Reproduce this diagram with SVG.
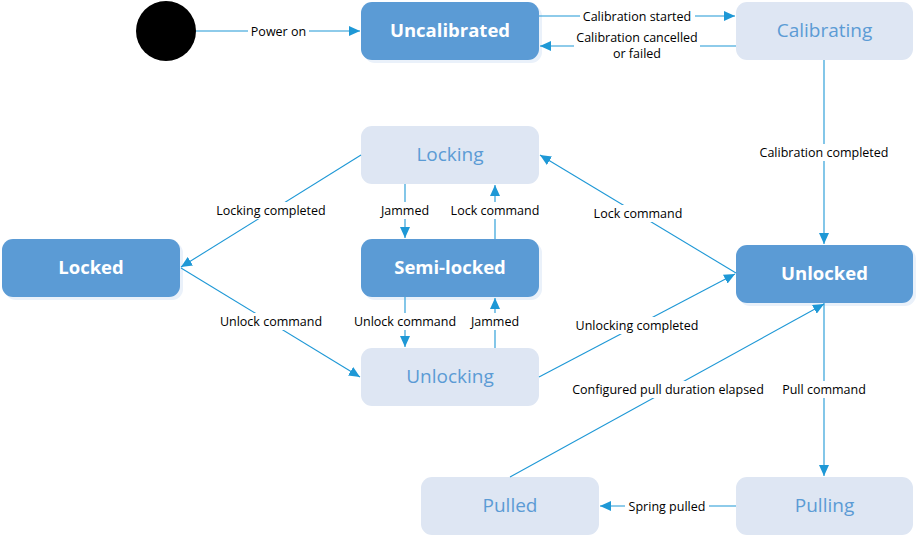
<svg xmlns="http://www.w3.org/2000/svg" width="919" height="537" viewBox="0 0 919 537">
<style>
.dk{fill:#5B9BD5}
.lt{fill:#DEE6F3}
.sh{fill:#EAF1FA}
.tdk{font-family:"Open Sans","Noto Sans",sans-serif;font-size:18.5px;font-weight:bold;fill:#FFFFFF;text-anchor:middle}
.tlt{font-family:"Open Sans","Noto Sans",sans-serif;font-size:19px;fill:#5B9BD5;text-anchor:middle}
.c{stroke:#1E98D6;stroke-width:1.1;fill:none;marker-end:url(#a)}
.lb{font-family:"Open Sans","Noto Sans",sans-serif;font-size:12.5px;fill:#000;text-anchor:middle}
.bg{fill:#FFFFFF}
</style>
<defs>
<marker id="a" markerUnits="userSpaceOnUse" markerWidth="12" markerHeight="10" refX="11" refY="5" orient="auto">
<path d="M0,0 L11,5 L0,10 Z" fill="#1E98D6"/>
</marker>
</defs>
<g id="start"><circle cx="166" cy="31" r="30" fill="#000"/></g>
<g id="uncalibrated"><rect class="sh" x="364" y="5" width="178" height="58" rx="11"/><rect class="dk" x="361" y="2" width="178" height="58" rx="11"/><text class="tdk" x="450" y="37">Uncalibrated</text></g>
<g id="calibrating"><rect class="lt" x="736" y="2" width="177" height="58" rx="11"/><text class="tlt" x="824.5" y="37">Calibrating</text></g>
<g id="locking"><rect class="lt" x="361" y="126" width="178" height="58" rx="11"/><text class="tlt" x="450" y="161">Locking</text></g>
<g id="locked"><rect class="sh" x="5" y="242" width="178" height="58" rx="11"/><rect class="dk" x="2" y="239" width="178" height="58" rx="11"/><text class="tdk" x="91" y="274">Locked</text></g>
<g id="semilocked"><rect class="sh" x="364" y="242" width="178" height="58" rx="11"/><rect class="dk" x="361" y="239" width="178" height="58" rx="11"/><text class="tdk" x="450" y="274">Semi-locked</text></g>
<g id="unlocking"><rect class="lt" x="361" y="348" width="178" height="58" rx="11"/><text class="tlt" x="450" y="383">Unlocking</text></g>
<g id="unlocked"><rect class="sh" x="739" y="248" width="177" height="58" rx="11"/><rect class="dk" x="736" y="245" width="177" height="58" rx="11"/><text class="tdk" x="824.5" y="280">Unlocked</text></g>
<g id="pulled"><rect class="lt" x="421" y="477" width="178" height="58" rx="11"/><text class="tlt" x="510" y="512">Pulled</text></g>
<g id="pulling"><rect class="lt" x="736" y="477" width="177" height="58" rx="11"/><text class="tlt" x="824.5" y="512">Pulling</text></g>
<g id="connectors">
<line class="c" x1="196" y1="31" x2="360" y2="31"/>
<line class="c" x1="539" y1="16" x2="735" y2="16"/>
<line class="c" x1="736" y1="46" x2="540" y2="46"/>
<line class="c" x1="824" y1="60" x2="824" y2="244"/>
<line class="c" x1="736" y1="273" x2="540" y2="155"/>
<line class="c" x1="361" y1="155" x2="181" y2="267"/>
<line class="c" x1="181" y1="268" x2="360" y2="377"/>
<line class="c" x1="405" y1="184" x2="405" y2="238"/>
<line class="c" x1="495" y1="239" x2="495" y2="185"/>
<line class="c" x1="405" y1="297" x2="405" y2="347"/>
<line class="c" x1="495" y1="348" x2="495" y2="298"/>
<line class="c" x1="539" y1="377" x2="735" y2="274"/>
<line class="c" x1="510" y1="477" x2="824" y2="304"/>
<line class="c" x1="824" y1="303" x2="824" y2="476"/>
<line class="c" x1="736" y1="506" x2="600" y2="506"/>
</g>
<g id="labels">
<rect class="bg" x="248" y="23" width="61" height="17"/><text class="lb" x="278.5" y="35.5">Power on</text>
<rect class="bg" x="580" y="8" width="115" height="17"/><text class="lb" x="637" y="20.5">Calibration started</text>
<rect class="bg" x="574" y="29" width="126" height="32"/><text class="lb" x="637" y="42">Calibration cancelled</text><text class="lb" x="637" y="57.5">or failed</text>
<rect class="bg" x="756" y="144" width="136" height="17"/><text class="lb" x="824" y="156.5">Calibration completed</text>
<rect class="bg" x="590" y="205" width="97" height="17"/><text class="lb" x="638" y="217.5">Lock command</text>
<rect class="bg" x="212" y="202" width="118" height="17"/><text class="lb" x="271" y="214.5">Locking completed</text>
<rect class="bg" x="216" y="313" width="110" height="17"/><text class="lb" x="271" y="325.5">Unlock command</text>
<rect class="bg" x="378" y="202" width="54" height="17"/><text class="lb" x="405" y="214.5">Jammed</text>
<rect class="bg" x="447" y="202" width="96" height="17"/><text class="lb" x="495" y="214.5">Lock command</text>
<rect class="bg" x="351" y="313" width="108" height="17"/><text class="lb" x="405" y="325.5">Unlock command</text>
<rect class="bg" x="468" y="313" width="54" height="17"/><text class="lb" x="495" y="325.5">Jammed</text>
<rect class="bg" x="571" y="317" width="133" height="17"/><text class="lb" x="637" y="329.5">Unlocking completed</text>
<rect class="bg" x="566" y="381" width="204" height="17"/><text class="lb" x="668" y="393.5">Configured pull duration elapsed</text>
<rect class="bg" x="779" y="381" width="90" height="17"/><text class="lb" x="824" y="393.5">Pull command</text>
<rect class="bg" x="625" y="498" width="84" height="17"/><text class="lb" x="667" y="510.5">Spring pulled</text>
</g>
</svg>
